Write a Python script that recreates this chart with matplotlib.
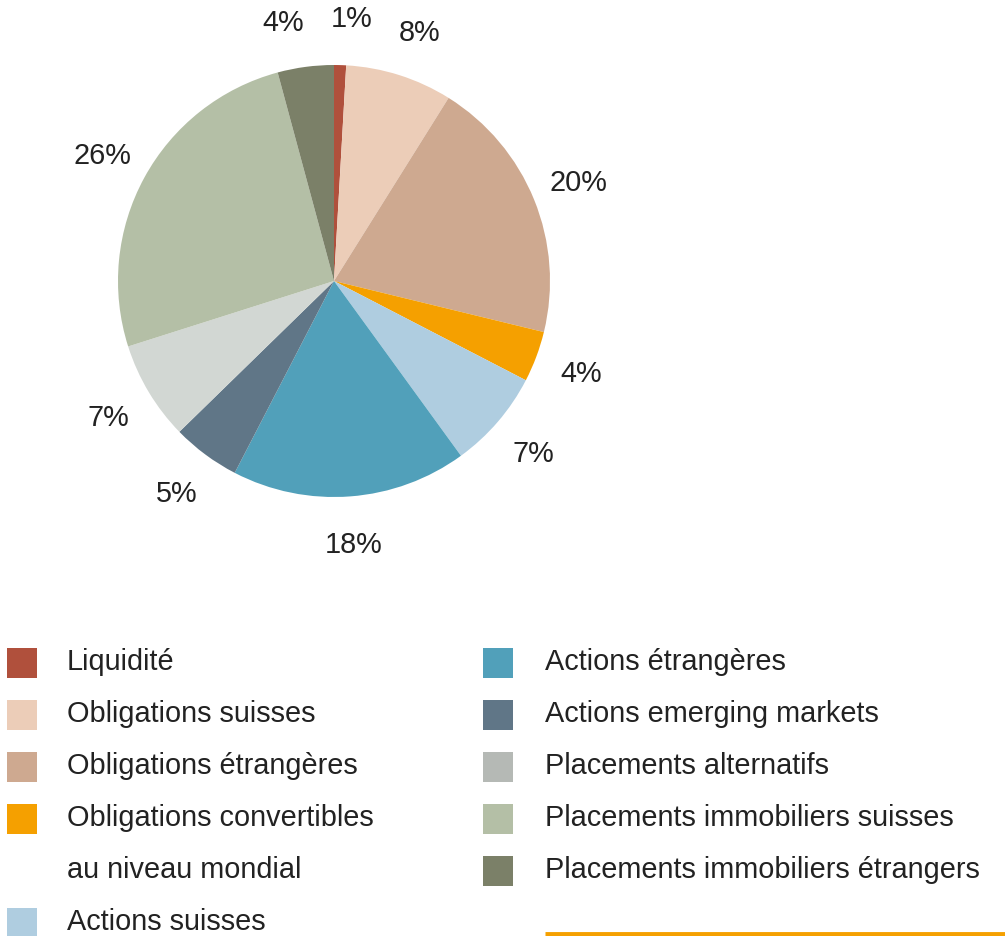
import numpy as np
import matplotlib.pyplot as plt
from matplotlib.patches import Rectangle

plt.rcParams['font.family'] = ['Liberation Sans', 'DejaVu Sans']

# allocation (%), clockwise from 12 o'clock
categories = ['Liquidité', 'Obligations suisses', 'Obligations étrangères',
              'Obligations convertibles\nau niveau mondial', 'Actions suisses',
              'Actions étrangères', 'Actions emerging markets',
              'Placements alternatifs', 'Placements immobiliers suisses',
              'Placements immobiliers étrangers']
values = [0.9, 8.0, 19.9, 3.8, 7.4, 17.6, 5.1, 7.4, 25.7, 4.2]
colors = ['#B0503C', '#ECCDB8', '#CEA990', '#F5A000', '#AFCDE0',
          '#51A0BA', '#607687', '#D2D7D3', '#B4BFA6', '#7B8068']
legend_colors = ['#B0503C', '#ECCDB8', '#CEA990', '#F5A000', '#AFCDE0',
                 '#51A0BA', '#607687', '#B5B9B5', '#B4BFA6', '#7B8068']

W, H = 1005, 937
fig = plt.figure(figsize=(W / 100, H / 100), dpi=100)

# pie axes: centre (334, 282) px, radius 216 px
cx, cy, r = 334, 282, 216
ax = fig.add_axes([(cx - r) / W, (H - cy - r) / H, 2 * r / W, 2 * r / H])
wedges, _ = ax.pie(values, colors=colors, startangle=90, counterclock=False,
                   wedgeprops=dict(linewidth=0))
ax.set_xlim(-1, 1)
ax.set_ylim(-1, 1)

# percentage labels outside the slices; spread neighbours that are too close
vals = np.array(values)
mid = (np.cumsum(vals) - vals / 2) / vals.sum() * 360.0   # clockwise from top
ang = np.where(mid > 180, mid - 360, mid)
order = np.argsort(ang)
min_sep = 15.0
for _ in range(5):
    for a, b in zip(order[:-1], order[1:]):
        d = ang[b] - ang[a]
        if d < min_sep:
            ang[a] -= (min_sep - d) / 2
            ang[b] += (min_sep - d) / 2

for v, a in zip(vals, ang):
    t = np.radians(a)
    ax.text(1.22 * np.sin(t), 1.22 * np.cos(t), f'{v:.0f}%', fontsize=20.75,
            color='#222222', ha='center', va='center', clip_on=False)

# legend drawn in pixel coordinates
lg = fig.add_axes([0, 0, 1, 1])
lg.set_xlim(0, W)
lg.set_ylim(H, 0)
lg.axis('off')

row_h = 52
left_rows = [0, 1, 2, 3, 5]
for i, (lab, col) in enumerate(zip(categories, legend_colors)):
    if i < 5:
        x0, tx, row = 7, 67, left_rows[i]
    else:
        x0, tx, row = 483, 545, i - 5
    yc = 662 + row * row_h
    lg.add_patch(Rectangle((x0, yc - 13), 30, 30, color=col, lw=0))
    for k, line in enumerate(lab.split('\n')):
        lg.text(tx, yc + k * row_h, line, fontsize=20.75, color='#222222',
                va='center', ha='left')

lg.plot([545, W], [934.5, 934.5], color='#F5A000', lw=3.5, solid_capstyle='butt')

fig.savefig('out.png', dpi=100)
